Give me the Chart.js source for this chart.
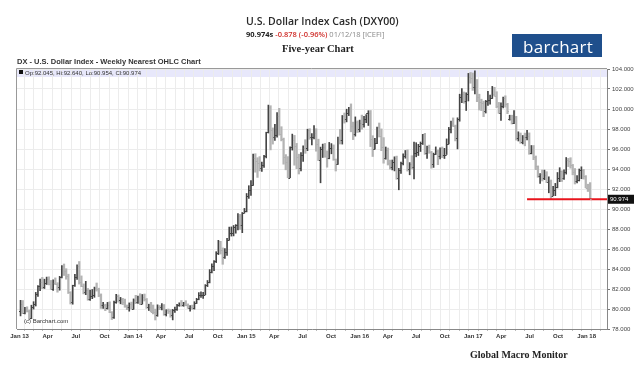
<!DOCTYPE html>
<html><head><meta charset="utf-8">
<script src="https://cdn.jsdelivr.net/npm/chart.js@4.4.0/dist/chart.umd.min.js"></script>
<style>
html,body{margin:0;padding:0;background:#fff;}
#wrap{position:relative;width:640px;height:369px;overflow:hidden;font-family:"Liberation Sans",Arial,sans-serif;}
.abs{position:absolute;white-space:nowrap;line-height:1;}
#band{position:absolute;left:17px;top:69px;width:590px;height:8px;background:#e8e8fb;}
canvas{position:absolute;left:0;top:0;}
</style></head><body>
<div id="wrap">
 <div id="band"></div>
 <canvas id="c" width="640" height="369"></canvas>
 <div class="abs" style="left:246px;top:16px;font-family:'Open Sans',sans-serif;font-weight:600;font-size:10.5px;color:#2a2a2a;">U.S. Dollar Index Cash (DXY00)</div>
 <div class="abs" style="left:246px;top:31px;font-family:'Open Sans',sans-serif;font-size:7.5px;color:#888;"><b style="color:#222;font-weight:700;">90.974s</b> <span style="color:#d0302c;font-weight:600;">-0.878 (-0.96%)</span> 01/12/18 [ICEFI]</div>
 <div class="abs" style="left:282px;top:44px;font-family:'Liberation Serif',serif;font-weight:bold;font-size:10.5px;color:#222;">Five-year Chart</div>
 <div class="abs" style="left:512px;top:34px;width:90px;height:23px;background:#1f4f8c;"></div>
 <div class="abs" style="left:523px;top:38px;font-family:'Open Sans',sans-serif;font-size:17px;color:#fff;letter-spacing:0.3px;">barchart</div>
 <div class="abs" style="left:17px;top:58px;font-weight:bold;font-size:7.5px;color:#333;">DX - U.S. Dollar Index - Weekly Nearest OHLC Chart</div>
 <div class="abs" style="left:19px;top:70px;width:4px;height:4px;background:#111;"></div>
 <div class="abs" style="left:25px;top:69.5px;font-size:6px;color:#333;">Op:92.045, Hi:92.640, Lo:90.954, Cl:90.974</div>
 <div class="abs" style="left:24px;top:318px;font-size:6px;color:#333;">(c) Barchart.com</div>
 <div class="abs" style="left:470px;top:350px;font-family:'Liberation Serif',serif;font-weight:bold;font-size:10px;color:#222;">Global Macro Monitor</div>
</div>
<script>
// Weekly OHLC bars [open, high, low, close], weeks ending Fridays from 2013-01-04
const firstWeek = '2013-01-04';
const ohlc2013 = [
[79.77,80.87,79.31,80.53],[80.53,80.85,79.53,79.62],[79.62,80.17,79.52,80.03],[80.03,80.22,79.70,79.78],
[79.78,79.90,78.92,79.06],[79.06,80.38,79.03,80.25],[80.25,80.73,79.99,80.48],[80.48,81.66,80.30,81.50],
[81.50,82.35,81.25,82.28],[82.28,82.99,81.84,82.68],[82.68,83.16,82.03,82.21],[82.21,82.98,82.05,82.57],
[82.57,83.19,82.45,82.99],[82.99,83.22,82.41,82.50],[82.50,82.86,81.96,82.05],[82.05,82.92,81.85,82.59],
[82.59,83.11,82.44,82.54],[82.54,82.63,81.68,82.20],[82.20,83.27,81.88,83.24],[83.24,84.35,83.12,84.31],
[84.31,84.50,83.35,83.76],[83.76,84.03,82.98,83.30],[83.30,83.48,81.55,81.65],[81.65,81.73,80.50,80.67],
[80.67,82.38,80.48,82.36],[82.36,83.46,82.26,83.19],[83.19,84.41,82.97,84.27],[84.27,84.75,82.49,82.74],
[82.74,83.31,82.23,82.26],[82.26,82.51,81.51,81.68],[81.68,82.77,81.43,81.90],[81.90,82.05,80.88,80.96],
[80.96,81.88,80.87,81.30],[81.30,81.95,81.03,81.41],[81.41,82.19,81.17,82.12],[82.12,82.60,81.79,81.96],
[81.96,82.08,81.23,81.43],[81.43,81.51,80.06,80.36],[80.36,80.66,80.05,80.37],[80.37,80.48,79.83,80.13],
[80.13,80.66,79.99,80.45],[80.45,80.72,79.63,79.67],[79.67,79.74,78.95,79.20],[79.20,80.79,79.07,80.72],
[80.72,81.47,80.57,81.28],[81.28,81.41,80.68,80.89],[80.89,81.16,80.52,80.99],[80.99,81.07,80.44,80.68],
[80.68,80.99,80.17,80.28],[80.28,80.40,79.93,80.16],[80.16,80.61,79.78,80.55],[80.55,80.69,80.01,80.03]
];
const ohlc2014 = [
[80.03,81.01,79.98,80.94],[80.94,81.37,80.54,80.66],[80.66,81.29,80.56,81.25],[81.25,81.53,80.44,80.51],
[80.51,81.45,80.50,81.25],[81.25,81.50,80.80,80.98],[80.98,81.05,80.06,80.22],[80.22,80.48,79.85,80.23],
[80.23,80.67,79.71,79.71],[79.71,80.40,79.51,79.68],[79.68,79.99,78.90,79.36],[79.36,80.42,79.27,80.23],
[80.23,80.35,79.93,80.18],[80.18,80.53,79.90,80.39],[80.39,80.45,79.37,79.53],[79.53,79.93,79.30,79.86],
[79.86,80.00,79.55,79.77],[79.77,79.93,79.18,79.43],[79.43,79.96,78.91,79.86],[79.86,80.18,79.66,80.05],
[80.05,80.47,79.86,80.40],[80.40,80.62,80.27,80.43],[80.43,80.85,80.27,80.42],[80.42,80.67,80.27,80.61],
[80.61,80.83,80.32,80.44],[80.44,80.51,80.06,80.09],[80.09,80.33,79.78,80.23],[80.23,80.39,79.97,80.12],
[80.12,80.73,79.99,80.59],[80.59,81.07,80.55,81.03],[81.03,81.64,80.92,81.37],[81.37,81.71,81.17,81.41],
[81.41,81.66,81.07,81.43],[81.43,82.44,81.43,82.39],[82.39,82.85,82.24,82.75],[82.75,83.94,82.61,83.74],
[83.74,84.51,83.62,84.33],[84.33,84.85,83.84,84.80],[84.80,85.73,84.64,85.64],[85.64,86.87,85.44,86.76],
[86.76,86.77,85.50,85.91],[85.91,86.11,84.47,85.18],[85.18,86.03,85.06,85.73],[85.73,87.06,85.36,86.91],
[86.91,88.19,86.88,87.56],[87.56,88.21,87.29,87.60],[87.60,88.35,87.31,88.24],[88.24,88.44,87.58,88.36],
[88.36,89.55,87.92,89.34],[89.34,89.46,87.96,88.40],[88.40,89.65,87.63,89.63],[89.63,90.06,89.60,89.85]
];
const ohlc2015 = [
[89.85,91.55,89.71,91.28],[91.28,92.33,91.06,91.89],[91.89,92.85,91.35,92.44],[92.44,95.48,92.36,95.08],
[95.08,95.53,93.68,94.80],[94.80,95.13,93.16,94.64],[94.64,95.24,93.81,94.09],[94.09,94.68,93.75,94.37],
[94.37,95.37,94.17,95.35],[95.35,97.68,95.11,97.65],[97.65,100.39,97.60,100.24],[100.24,100.33,95.91,97.87],
[97.87,98.11,96.49,97.15],[97.15,98.46,96.85,97.41],[97.41,99.64,97.18,99.30],[99.30,100.07,97.38,97.52],
[97.52,98.23,96.81,96.96],[96.96,97.09,94.48,95.21],[95.21,95.44,93.92,94.74],[94.74,95.24,93.13,93.14],
[93.14,96.22,93.14,96.16],[96.16,97.49,95.89,96.93],[96.93,97.36,94.38,96.31],[96.31,96.56,94.03,95.22],
[95.22,95.48,93.50,94.06],[94.06,95.65,93.81,95.42],[95.42,96.32,94.77,96.13],[96.13,96.93,95.57,96.08],
[96.08,97.98,95.83,97.93],[97.93,98.03,96.97,97.19],[97.19,97.54,96.41,97.22],[97.22,98.33,97.00,97.56],
[97.56,98.03,95.78,96.55],[96.55,96.98,94.85,94.93],[94.93,96.19,92.62,95.97],[95.97,96.49,95.15,96.20],
[96.20,96.56,95.17,95.28],[95.28,95.81,94.18,95.13],[95.13,96.66,95.02,96.06],[96.06,96.54,95.52,96.12],
[96.12,96.41,94.87,94.96],[94.96,95.00,93.80,94.49],[94.49,97.18,94.47,96.99],[96.99,97.96,96.50,96.89],
[96.89,99.35,96.49,99.27],[99.27,99.60,98.59,99.02],[99.02,99.98,98.71,99.57],[99.57,100.17,99.34,100.03],
[100.03,100.51,97.72,98.32],[98.32,98.69,96.94,97.53],[97.53,99.21,97.29,98.72],[98.72,98.81,97.65,97.97]
];
const ohlc2016 = [
[97.97,98.89,97.71,98.63],[98.63,99.39,97.98,98.54],[98.54,99.27,98.18,99.03],[99.03,99.44,98.63,99.58],
[99.58,99.83,98.35,99.61],[99.61,99.85,96.24,97.04],[97.04,97.33,95.25,96.04],[96.04,97.07,95.98,96.64],
[96.64,98.20,96.53,98.17],[98.17,98.60,97.20,97.31],[97.31,98.01,95.83,96.16],[96.16,97.14,94.58,95.08],
[95.08,96.20,94.98,95.87],[95.87,96.10,94.40,94.60],[94.60,94.89,93.99,94.22],[94.22,94.90,93.91,94.68],
[94.68,95.22,93.81,95.11],[95.11,95.29,92.97,93.06],[93.06,94.06,91.92,93.88],[93.88,94.70,93.56,94.62],
[94.62,95.52,94.41,95.30],[95.30,95.85,95.08,95.50],[95.50,95.92,93.79,94.04],[94.04,94.64,93.42,94.55],
[94.55,95.33,93.99,94.16],[94.16,96.70,93.02,95.58],[95.58,96.63,95.22,95.65],[95.65,96.47,95.35,96.27],
[96.27,96.70,95.75,96.61],[96.61,97.46,96.45,97.46],[97.46,97.57,95.46,95.56],[95.56,96.29,95.05,96.22],
[96.22,96.39,95.57,95.72],[95.72,95.77,94.08,94.50],[94.50,95.59,94.16,95.49],[95.49,96.21,95.45,95.82],
[95.82,95.91,94.43,95.29],[95.29,96.12,95.02,96.09],[96.09,96.20,95.14,95.45],[95.45,96.07,95.05,95.45],
[95.45,97.01,95.45,96.55],[96.55,98.16,96.51,97.99],[97.99,98.78,97.62,98.64],[98.64,99.11,98.26,98.34],
[98.34,98.39,96.81,97.07],[97.07,99.12,96.01,99.02],[99.02,101.48,98.78,101.22],[101.22,102.05,100.63,101.53],
[101.53,101.70,100.58,100.76],[100.76,101.62,99.85,101.53],[101.53,103.56,100.80,103.15],[103.15,103.65,102.58,103.11],
[103.11,103.60,101.86,102.21]
];
const ohlc2017 = [
[102.21,103.82,101.50,102.23],[102.23,102.95,100.73,101.17],[101.17,101.48,99.90,100.74],[100.74,100.98,99.84,100.58],
[100.58,100.79,99.23,99.82],[99.82,100.86,99.60,100.79],[100.79,101.76,100.35,100.93],[100.93,101.39,100.48,101.12],
[101.12,102.26,101.05,101.52],[101.52,102.17,101.30,101.31],[101.31,101.73,100.13,100.32],[100.32,100.66,99.57,99.62],
[99.62,100.62,98.85,100.35],[100.35,101.18,100.10,101.07],[101.07,101.32,100.19,100.50],[100.50,100.57,99.53,99.77],
[99.00,99.38,98.88,99.05],[99.05,99.38,98.50,98.60],[98.60,99.84,98.54,99.19],[99.19,99.27,96.89,97.13],
[97.13,97.72,96.80,97.42],[97.42,97.60,96.57,96.71],[96.71,97.35,96.51,97.24],[97.24,97.59,96.32,97.18],
[97.18,97.87,96.90,97.26],[97.26,97.61,95.47,95.63],[95.63,96.35,95.51,96.01],[96.01,96.35,94.93,95.15],
[95.15,95.30,93.93,94.29],[94.29,94.31,93.17,93.26],[93.26,93.54,92.55,93.53],[93.53,93.90,92.80,93.07],
[93.07,93.89,92.93,93.42],[93.42,93.73,92.64,92.74],[92.74,93.22,91.62,92.81],[92.81,92.90,91.01,91.33],
[91.33,92.27,91.33,91.87],[91.87,92.56,91.33,92.18],[92.18,93.65,92.11,93.08],[93.08,94.13,92.73,93.82],
[93.82,93.82,92.75,93.07],[93.07,93.92,92.96,93.69],[93.69,95.15,93.49,94.90],[94.90,95.06,94.24,94.80],
[94.80,95.13,94.08,94.38],[94.38,94.46,93.42,93.67],[93.67,94.05,92.50,92.78],[92.78,93.34,92.60,92.94],
[92.94,94.00,92.80,93.90],[93.90,94.22,93.03,93.92],[93.92,93.96,92.99,93.28],[93.28,93.34,92.12,92.12]
];
const ohlc2018 = [
[92.12,92.48,91.75,91.96],[92.045,92.64,90.954,90.974]
];
const yTicksMin = 78, yTicksMax = 104, yStep = 2;
const monthNames = ['Jan','Feb','Mar','Apr','May','Jun','Jul','Aug','Sep','Oct','Nov','Dec'];
const supportLevel = 90.974;
const supportStart = '2017-06-23';
const lastClose = 90.974;

const DAY = 86400000;
const origin = Date.UTC(2013,0,1);
const toW = ms => (ms - origin) / DAY / 7;
const w0 = Date.parse(firstWeek + 'T00:00:00Z');
const bars = [].concat(ohlc2013, ohlc2014, ohlc2015, ohlc2016, ohlc2017, ohlc2018)
  .map((b,i) => ({x: toW(w0 + i*7*DAY), y:[b[2], b[1]], o:b[0], h:b[1], l:b[2], c:b[3]}));
const upBars = bars.filter(b => b.c >= b.o);
const downBars = bars.filter(b => b.c < b.o);

const monthTicks = [];
for (let y = 2013; y <= 2018; y++) {
  for (let m = 0; m < 12; m++) {
    const v = toW(Date.UTC(y, m, 1));
    if (v > 270) break;
    const lab = m === 0 ? 'Jan ' + String(y).slice(2) : (m % 3 === 0 ? monthNames[m] : '');
    monthTicks.push({value: v, label: lab});
  }
}
const xMin = -1.2, xMax = 270.2;

const ohlcTicks = {
  id: 'ohlcTicks',
  afterDatasetsDraw(chart) {
    const {ctx, scales:{x, y}} = chart;
    ctx.save();
    ctx.lineWidth = 1;
    bars.forEach(b => {
      const px = x.getPixelForValue(b.x);
      ctx.strokeStyle = b.c >= b.o ? '#444' : '#b0b0b0';
      const yo = Math.round(y.getPixelForValue(b.o)) + 0.5;
      const yc = Math.round(y.getPixelForValue(b.c)) + 0.5;
      ctx.beginPath();
      ctx.moveTo(px - 1.5, yo); ctx.lineTo(px, yo);
      ctx.moveTo(px, yc); ctx.lineTo(px + 1.5, yc);
      ctx.stroke();
    });
    const ly = y.getPixelForValue(lastClose);
    const ca = chart.chartArea;
    ctx.fillStyle = '#111';
    ctx.fillRect(ca.right + 1, ly - 4.5, 26, 9);
    ctx.fillStyle = '#fff';
    ctx.font = '6px "Liberation Sans", Arial';
    ctx.textBaseline = 'middle';
    ctx.fillText(lastClose.toFixed(3), ca.right + 3, ly + 0.5);
    ctx.restore();
  },
  afterDraw(chart) {
    const {ctx, chartArea: ca} = chart;
    ctx.save();
    ctx.strokeStyle = '#999';
    ctx.lineWidth = 1;
    ctx.beginPath();
    ctx.moveTo(ca.left - 0.5, ca.bottom); ctx.lineTo(ca.left - 0.5, ca.top - 0.5); ctx.lineTo(ca.right, ca.top - 0.5);
    ctx.stroke();
    ctx.restore();
  }
};

new Chart(document.getElementById('c'), {
  type: 'bar',
  data: {
    datasets: [
      {type:'bar', data: upBars, backgroundColor:'#444', borderWidth:0, barThickness:1, grouped:false},
      {type:'bar', data: downBars, backgroundColor:'#b4b4b4', borderWidth:0, barThickness:1.6, grouped:false},
      {type:'line', data:[{x: toW(Date.parse(supportStart + 'T00:00:00Z')), y: supportLevel}, {x: xMax, y: supportLevel}],
        borderColor:'#e8141c', borderWidth:2, pointRadius:0, order:-1}
    ]
  },
  options: {
    responsive: false,
    animation: false,
    layout: {padding: {left: 17, top: 69, right: 0, bottom: 0}},
    plugins: {legend: {display: false}, tooltip: {enabled: false}},
    scales: {
      x: {
        type: 'linear', min: xMin, max: xMax, offset: false,
        afterBuildTicks: s => { s.ticks = monthTicks.map(t => ({value: t.value})); },
        afterFit: s => { s.height = 40; },
        ticks: {autoSkip: false, maxRotation: 0, padding: 2, color: '#333',
          font: {size: 6, family: '"Liberation Sans", Arial', weight: 'bold'},
          callback: (v, i) => monthTicks[i] ? monthTicks[i].label : ''},
        grid: {color: '#ececec', tickLength: 2, tickColor: '#bbb'},
        border: {color: '#888'}
      },
      y: {
        position: 'right', min: yTicksMin, max: yTicksMax,
        afterFit: s => { s.width = 33; },
        ticks: {stepSize: yStep, padding: 2, color: '#444',
          font: {size: 6, family: '"Liberation Sans", Arial'},
          callback: v => v.toFixed(3)},
        grid: {color: '#ececec', tickLength: 3, tickColor: '#777'},
        border: {color: '#888'}
      }
    }
  },
  plugins: [ohlcTicks]
});
</script>
</body></html>
